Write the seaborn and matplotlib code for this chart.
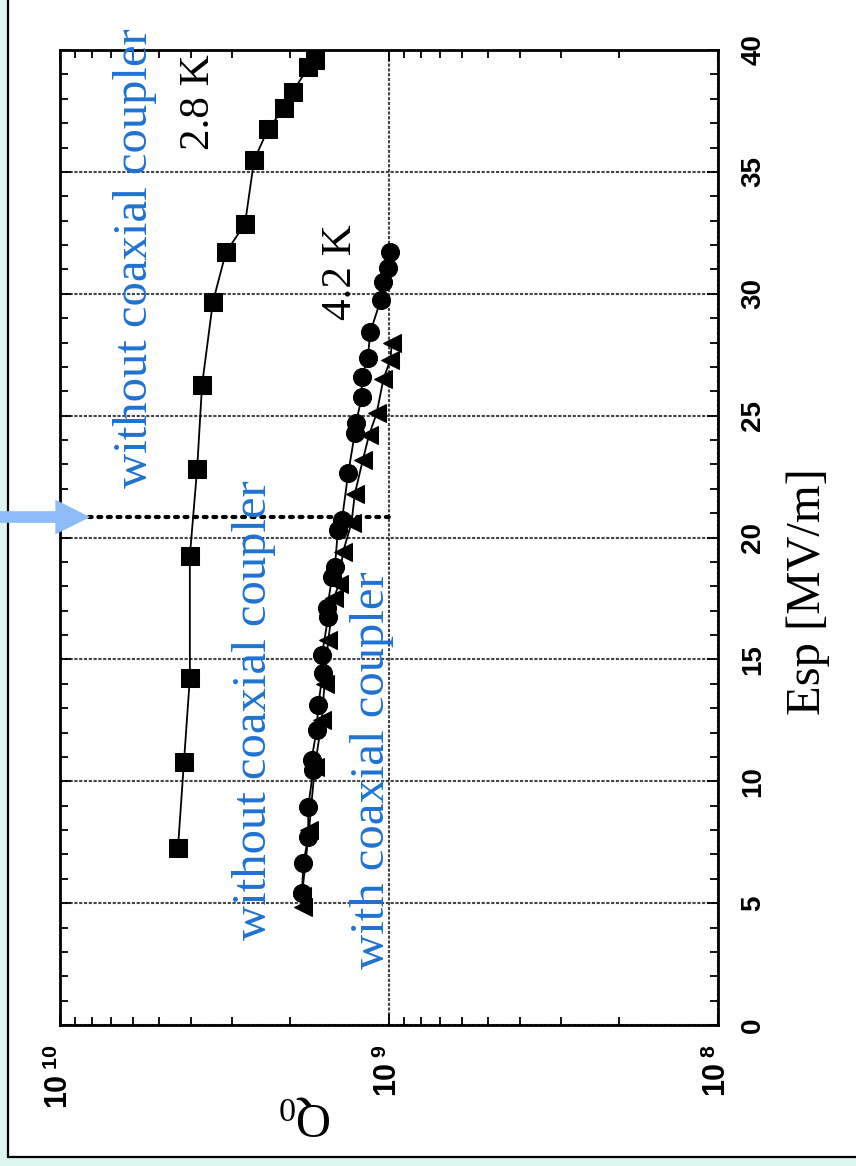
import numpy as np
import pandas as pd
import matplotlib
matplotlib.use('Agg')
import matplotlib.pyplot as plt
import seaborn as sns
from matplotlib.ticker import FixedLocator, LogLocator, FuncFormatter, NullFormatter, MultipleLocator
from matplotlib.patches import Rectangle

# ---------------- data ----------------
esp_28 = [7.26, 10.79, 14.24, 19.24, 22.81, 26.26, 29.66, 31.71, 32.86, 35.49, 36.76, 37.62, 38.28, 39.30, 39.59]
q0_28 = [4.38e9, 4.20e9, 4.03e9, 4.03e9, 3.83e9, 3.70e9, 3.43e9, 3.13e9, 2.74e9, 2.57e9, 2.33e9, 2.08e9, 1.96e9, 1.76e9, 1.68e9]

esp_42_wo = [5.42, 6.65, 7.71, 8.94, 10.46, 10.87, 12.10, 13.13, 14.44, 15.18, 16.74, 17.11, 18.38, 18.79,
             20.31, 20.72, 22.65, 24.29, 24.70, 25.76, 26.58, 27.36, 28.43, 29.74, 30.48, 31.06, 31.71]
q0_42_wo = [1.84e9, 1.82e9, 1.76e9, 1.76e9, 1.70e9, 1.72e9, 1.66e9, 1.64e9, 1.59e9, 1.60e9, 1.53e9, 1.54e9, 1.49e9, 1.46e9,
            1.43e9, 1.39e9, 1.33e9, 1.27e9, 1.26e9, 1.21e9, 1.21e9, 1.16e9, 1.14e9, 1.06e9, 1.04e9, 1.01e9, 0.99e9]

esp_42_w = [4.84, 5.3, 8.0, 10.6, 12.5, 14.0, 15.8, 17.5, 18.1, 19.4, 20.6, 21.8, 23.2, 24.2, 25.1, 26.5, 27.3, 28.0]
q0_42_w = [1.82e9, 1.84e9, 1.75e9, 1.68e9, 1.60e9, 1.57e9, 1.53e9, 1.47e9, 1.42e9, 1.38e9, 1.30e9, 1.27e9, 1.20e9,
           1.15e9, 1.09e9, 1.04e9, 0.99e9, 0.98e9]

esp_ticks = [0, 5, 10, 15, 20, 25, 30, 35, 40]
q0_ticks = [1e10, 1e9, 1e8]
operating_esp = 20.84

label_28 = "2.8 K"
label_42 = "4.2 K"
label_wo = "without coaxial coupler"
label_w = "with coaxial coupler"
xlabel = "Esp [MV/m]"
ylabel = r"Q$_{\mathrm{0}}$"

# ---------------- style ----------------
sns.set_style('white')
plt.rcParams['font.family'] = ['Liberation Sans', 'DejaVu Sans']
plt.rcParams['mathtext.fontset'] = 'custom'
plt.rcParams['mathtext.rm'] = 'Liberation Serif'
plt.rcParams['mathtext.it'] = 'Liberation Serif:italic'
plt.rcParams['mathtext.bf'] = 'Liberation Sans:bold'
plt.rcParams['text.color'] = 'black'
plt.rcParams['xtick.color'] = 'black'
plt.rcParams['ytick.color'] = 'black'
plt.rcParams['xtick.labelcolor'] = 'black'
plt.rcParams['ytick.labelcolor'] = 'black'

fig = plt.figure(figsize=(8.56, 11.66), dpi=100)
fig.patch.set_facecolor('#dcf5f0')
fig.patches.append(Rectangle((8 / 856, 9 / 1166), 1.2, 1.2, transform=fig.transFigure,
                             facecolor='white', edgecolor='black', lw=1.6, zorder=-5))

ax = fig.add_axes([60 / 856, (1166 - 1025) / 1166, 658 / 856, 975 / 1166])
ax.set_facecolor('white')
ax.set_xscale('log')

blue = '#1f72d0'

df28 = pd.DataFrame({'Q0': q0_28, 'Esp': esp_28})
dfwo = pd.DataFrame({'Q0': q0_42_wo, 'Esp': esp_42_wo})
dfw = pd.DataFrame({'Q0': q0_42_w, 'Esp': esp_42_w})

sns.lineplot(data=dfw, x='Q0', y='Esp', sort=False, estimator=None, marker='<', markersize=13.5,
             color='black', lw=1.3, markeredgecolor='black', ax=ax, zorder=4)
sns.lineplot(data=dfwo, x='Q0', y='Esp', sort=False, estimator=None, marker='o', markersize=13,
             color='black', lw=1.3, markeredgecolor='black', ax=ax, zorder=5)
sns.lineplot(data=df28, x='Q0', y='Esp', sort=False, estimator=None, marker='s', markersize=13.5,
             color='black', lw=1.3, markeredgecolor='black', ax=ax, zorder=5)

# operating point dotted line
ax.plot([1e10, 1.0e9], [operating_esp, operating_esp], color='black', lw=3,
        ls=(0, (0.7, 1.6)), dash_capstyle='round', zorder=3)

ax.set_xlim(1e10, 1e8)
ax.set_ylim(0, 40)

# ticks
ax.xaxis.set_major_locator(FixedLocator(q0_ticks))
ax.xaxis.set_minor_locator(LogLocator(base=10, subs=np.arange(2, 10)))
ax.xaxis.set_minor_formatter(NullFormatter())
ax.xaxis.set_major_formatter(FuncFormatter(
    lambda v, p: r'$\mathbf{10}^{\ \mathbf{%d}}$' % int(round(np.log10(v)))))
ax.yaxis.set_major_locator(FixedLocator(esp_ticks))
ax.yaxis.set_minor_locator(MultipleLocator(1))

ax.tick_params(axis='both', which='both', direction='in', top=True, bottom=True, left=True, right=True,
               width=1.3, color='black')
ax.tick_params(axis='both', which='major', length=8)
ax.tick_params(axis='both', which='minor', length=6)
ax.tick_params(axis='y', labelleft=False, labelright=True, labelrotation=90, pad=16, labelsize=20,
               labelcolor='black')
ax.tick_params(axis='x', labelrotation=90, pad=14, labelsize=22, labelcolor='black')
for lab in ax.get_yticklabels():
    lab.set_fontweight('bold')
    lab.set_va('center')
    lab.set_ha('left')

ax.grid(True, which='major', color='#444444', lw=1.5, ls=(0, (1.5, 0.8)))
for s in ax.spines.values():
    s.set_color('black')
    s.set_linewidth(2)

# axis labels
ax.text((808 - 60) / 658, (1025 - 592) / 975, xlabel, transform=ax.transAxes, rotation=90,
        ha='center', va='center', fontsize=35, family='Liberation Serif', color='black')
ax.text((305 - 60) / 658, (1025 - 1115) / 975, ylabel, transform=ax.transAxes, rotation=180,
        ha='center', va='center', fontsize=35, family='Liberation Serif', color='black')

# annotations
ax.text(5.92e9, 31.47, label_wo, rotation=90, ha='center', va='center', fontsize=35,
        family='Liberation Serif', color=blue)
ax.text(2.57e9, 12.92, label_wo, rotation=90, ha='center', va='center', fontsize=35,
        family='Liberation Serif', color=blue)
ax.text(1.13e9, 10.46, label_w, rotation=90, ha='center', va='center', fontsize=35,
        family='Liberation Serif', color=blue)
ax.text(3.78e9, 37.87, label_28, rotation=90, ha='center', va='center', fontsize=31,
        family='Liberation Serif', color='black')
ax.text(1.40e9, 30.89, label_42, rotation=90, ha='center', va='center', fontsize=31,
        family='Liberation Serif', color='black')

# arrow
ax.annotate('', xy=(8.1e9, operating_esp), xycoords='data',
            xytext=(0.0, operating_esp), textcoords=('figure fraction', 'data'),
            arrowprops=dict(arrowstyle='simple,head_length=1.25,head_width=1.25,tail_width=0.42',
                            fc='#8cbcf5', ec='none', mutation_scale=20, shrinkA=0, shrinkB=0),
            annotation_clip=False)

ax.set_xlabel('')
ax.set_ylabel('')

fig.savefig('out.png', dpi=100, facecolor=fig.get_facecolor())
